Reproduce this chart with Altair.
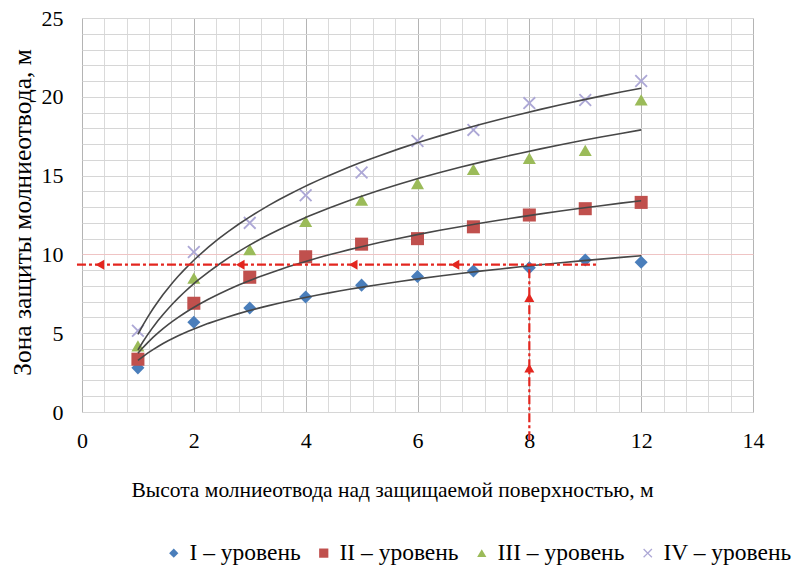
import altair as alt
import pandas as pd

# ---- data ----
x_pos = [1, 2, 3, 4, 5, 6, 7, 8, 9, 10]          # category positions on the axis
series_names = ["I – уровень", "II – уровень", "III – уровень", "IV – уровень"]
level_I = [2.8, 5.7, 6.6, 7.3, 8.05, 8.6, 8.95, 9.15, 9.65, 9.5]
level_II = [3.35, 6.9, 8.55, 9.85, 10.65, 11.0, 11.75, 12.5, 12.9, 13.3]
level_III = [4.2, 8.5, 10.3, 12.1, 13.45, 14.5, 15.4, 16.1, 16.6, 19.8]
level_IV = [5.15, 10.15, 12.0, 13.75, 15.2, 17.2, 17.9, 19.6, 19.8, 21.0]

x_tick_values = [0, 2, 4, 6, 8, 10, 12]
x_tick_labels = ["0", "2", "4", "6", "8", "12", "14"]
y_tick_values = [0, 5, 10, 15, 20, 25]

# red guide (reading example)
guide_level = [9.35]
guide_h_from = [-0.09]
guide_h_to = [9.2]
guide_x = [8]
guide_v_from = [-1.8]
arrow_left_x = [0.32, 2.83, 4.85, 6.67]
arrow_up_y = [2.78, 7.26]

colors = ["#4A7EBB", "#C0504D", "#9BBB59", "#ADA8D6"]
x_shape = "M-1,-0.8L-0.8,-1L0,-0.2L0.8,-1L1,-0.8L0.2,0L1,0.8L0.8,1L0,0.2L-0.8,1L-1,0.8L-0.2,0Z"
shapes = ["diamond", "square", "triangle-up", x_shape]

FONT = "Liberation Serif"

df = pd.DataFrame({
    "x": x_pos * 4,
    "y": level_I + level_II + level_III + level_IV,
    "series": sum([[s] * len(x_pos) for s in series_names], []),
})

x_grid_values = [round(i * 0.4, 1) for i in range(31)]
y_grid_values = list(range(26))

lab_x = " : ".join(
    f"datum.value == {v} ? '{l}'" for v, l in zip(x_tick_values, x_tick_labels)
) + " : ''"
major_x_test = "indexof(" + str(x_tick_values) + ", datum.value) >= 0"
lab_y = "indexof(" + str(y_tick_values) + ", datum.value) >= 0 ? format(datum.value, 'd') : ''"

x_scale = alt.Scale(domain=[0, 12], nice=False, zero=False)
y_scale = alt.Scale(domain=[0, 25], nice=False)

x_axis = alt.Axis(
    values=x_grid_values, tickCount=60, labelExpr=lab_x, ticks=False, tickSize=0, domain=False,
    gridColor={"condition": {"test": major_x_test, "value": "#b4b4b4"}, "value": "#dadada"},
    gridWidth=1, labelFont=FONT, labelFontSize=22, labelColor="black",
    labelBaseline="middle", labelPadding=28, labelFlush=False, labelOverlap=False,
    title="Высота молниеотвода над защищаемой поверхностью, м",
    titleFont=FONT, titleFontSize=21.5, titleFontWeight="normal", titleColor="black",
    titleX=310, titleY=78, titleBaseline="middle", titleAnchor="middle",
)
y_axis = alt.Axis(
    values=y_grid_values, tickCount=60, labelExpr=lab_y, ticks=False, tickSize=0, domain=False,
    gridColor={"condition": {"test": "datum.value == 10", "value": "#efc4c4"}, "value": "#d6d6d6"},
    gridWidth=1, labelFont=FONT, labelFontSize=22,
    labelColor="black", labelPadding=19, labelFlush=False, labelOverlap=False,
    title="Зона защиты молниеотвода, м", titleFont=FONT, titleFontSize=25.5,
    titleFontWeight="normal", titleColor="black", titleX=-60, titleY=194,
    titleAngle=-90, titleBaseline="middle", titleAnchor="middle",
)

legend = alt.Legend(
    orient="none", legendX=80, legendY=523, direction="horizontal", title=None,
    labelFont=FONT, labelFontSize=23.5, labelColor="black", symbolSize=85,
    symbolStrokeWidth=0, columnPadding=11, labelOffset=4, padding=0,
)

points = alt.Chart(df).mark_point(filled=True, size=170, opacity=1).encode(
    x=alt.X("x:Q", scale=x_scale, axis=x_axis),
    y=alt.Y("y:Q", scale=y_scale, axis=y_axis),
    color=alt.Color("series:N", scale=alt.Scale(domain=series_names, range=colors), legend=legend),
    shape=alt.Shape("series:N", scale=alt.Scale(domain=series_names, range=shapes), legend=legend),
)

trend = alt.Chart(df).transform_regression(
    "x", "y", method="log", groupby=["series"]
).mark_line(color="#474747", strokeWidth=1.6).encode(
    x=alt.X("x:Q", scale=x_scale),
    y=alt.Y("y:Q", scale=y_scale),
    detail="series:N",
)

RED = "#E3261F"
dash = [9, 3, 3, 3]
h_df = pd.DataFrame({"x": guide_h_from, "x2": guide_h_to, "y": guide_level})
v_df = pd.DataFrame({"x": guide_x, "y": guide_v_from, "y2": guide_level})

h_rule = alt.Chart(h_df).mark_rule(color=RED, strokeWidth=2.2, strokeDash=dash).encode(
    x=alt.X("x:Q", scale=x_scale), x2="x2:Q", y=alt.Y("y:Q", scale=y_scale)
)
v_rule = alt.Chart(v_df).mark_rule(color=RED, strokeWidth=2.2, strokeDash=dash).encode(
    x=alt.X("x:Q", scale=x_scale), y=alt.Y("y:Q", scale=y_scale), y2="y2:Q"
)
al_df = pd.DataFrame({"x": arrow_left_x, "y": guide_level * len(arrow_left_x)})
au_df = pd.DataFrame({"x": guide_x * len(arrow_up_y), "y": arrow_up_y})
arrows_left = alt.Chart(al_df).mark_point(
    shape="triangle-left", filled=True, color=RED, size=100, opacity=1
).encode(x=alt.X("x:Q", scale=x_scale), y=alt.Y("y:Q", scale=y_scale))
arrows_up = alt.Chart(au_df).mark_point(
    shape="triangle-up", filled=True, color=RED, size=100, opacity=1
).encode(x=alt.X("x:Q", scale=x_scale), y=alt.Y("y:Q", scale=y_scale))

chart = alt.layer(points, trend, h_rule, v_rule, arrows_left, arrows_up).properties(
    width=671, height=394,
    autosize=alt.AutoSizeParams(type="none"),
    padding={"left": 74, "top": 10, "right": 40, "bottom": 156},
).configure_view(stroke=None).configure(background="white")

chart.save("out.html", embed_options={"renderer": "svg", "actions": False})
